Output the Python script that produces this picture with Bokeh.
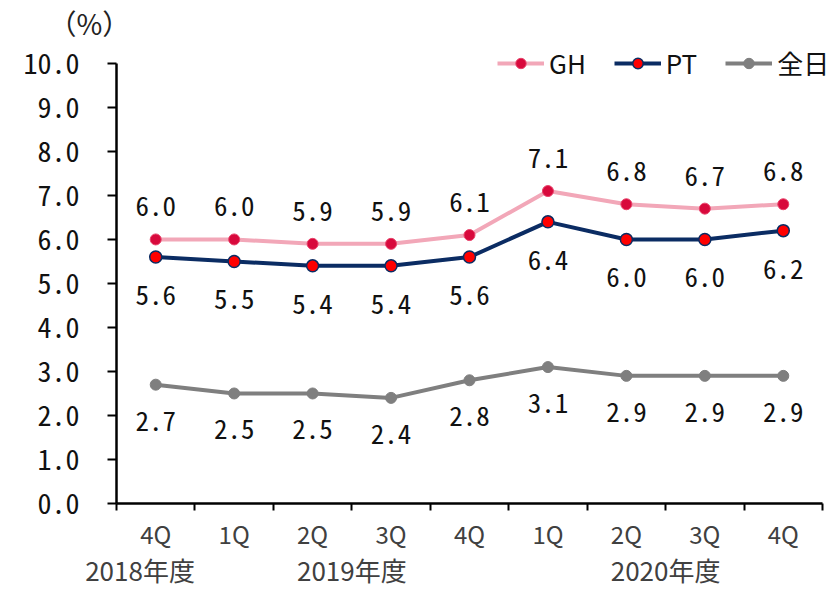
from bokeh.plotting import figure
from bokeh.models import (ColumnDataSource, Range1d, FixedTicker, LinearAxis,
                          Legend, LegendItem, Title, CustomJSTickFormatter)
from bokeh.core.properties import value
from bokeh.embed import file_html
from bokeh.resources import INLINE

quarters = ["4Q", "1Q", "2Q", "3Q", "4Q", "1Q", "2Q", "3Q", "4Q"]
years = ["2018年度", "2019年度", "2020年度"]
year_pos = [0.3, 3.0, 7.0]
gh = [6.0, 6.0, 5.9, 5.9, 6.1, 7.1, 6.8, 6.7, 6.8]
pt = [5.6, 5.5, 5.4, 5.4, 5.6, 6.4, 6.0, 6.0, 6.2]
zen = [2.7, 2.5, 2.5, 2.4, 2.8, 3.1, 2.9, 2.9, 2.9]
y_ticks = [0, 1, 2, 3, 4, 5, 6, 7, 8, 9, 10]

n = len(quarters)
xs = [i + 0.5 for i in range(n)]
src = ColumnDataSource(dict(
    x=xs, gh=gh, pt=pt, zen=zen,
    gh_t=[f"{v:.1f}" for v in gh],
    pt_t=[f"{v:.1f}" for v in pt],
    zen_t=[f"{v:.1f}" for v in zen],
))

NUMFONT = "Noto Sans Mono CJK JP"
JPFONT = "Noto Sans CJK JP"

W = 832
H = 590
LEFT = 116
RIGHT = 2
TOP = 40
BOTTOM_PANEL = 87
frame_h = H - TOP - BOTTOM_PANEL
frame_w = W - LEFT - RIGHT
ymax = 10 * frame_h / (frame_h - (61 - TOP))
xmax = n * frame_w / (822 - LEFT)

p = figure(width=W, height=H, output_backend="svg", toolbar_location=None,
           x_range=Range1d(0, xmax), y_range=Range1d(0, ymax),
           min_border_left=LEFT, min_border_right=RIGHT, min_border_top=TOP,
           min_border_bottom=BOTTOM_PANEL, x_axis_type=None)
p.outline_line_color = None
p.grid.visible = False
p.background_fill_color = "white"
p.border_fill_color = "white"

# y axis
p.yaxis.bounds = (0, 10)
p.yaxis.ticker = FixedTicker(ticks=y_ticks)
p.yaxis.formatter = CustomJSTickFormatter(code="return tick.toFixed(1);")
p.yaxis.axis_line_width = 2.5
p.yaxis.axis_line_color = "black"
p.yaxis.major_tick_line_width = 2
p.yaxis.major_tick_in = 0
p.yaxis.major_tick_out = 9
p.yaxis.minor_tick_line_color = None
p.yaxis.major_label_standoff = 28
p.yaxis.major_label_text_font = NUMFONT
p.yaxis.major_label_text_font_size = "28px"
p.yaxis.major_label_text_color = "#111111"

# x axis (quarters)
xa = LinearAxis(ticker=FixedTicker(ticks=xs, minor_ticks=list(range(n + 1))),
                major_label_overrides={x: q for x, q in zip(xs, quarters)},
                bounds=(0, n))
xa.axis_line_width = 2.5
xa.axis_line_color = "black"
xa.major_tick_line_color = None
xa.minor_tick_line_width = 2
xa.minor_tick_in = 0
xa.minor_tick_out = 7
xa.major_label_standoff = 5
xa.major_label_text_font = JPFONT
xa.major_label_text_font_size = "24px"
xa.major_label_text_color = "#404040"
p.add_layout(xa, "below")

ya = LinearAxis(ticker=FixedTicker(ticks=year_pos),
                major_label_overrides={x: y for x, y in zip(year_pos, years)})
ya.axis_line_color = None
ya.major_tick_line_color = None
ya.minor_tick_line_color = None
ya.major_tick_in = 0
ya.major_tick_out = 0
ya.major_label_standoff = -3
ya.major_label_text_font = JPFONT
ya.major_label_text_font_size = "26px"
ya.major_label_text_color = "#404040"
p.add_layout(ya, "below")

# series
gh_l = p.line("x", "gh", source=src, line_color="#F2A7B8", line_width=4)
gh_m = p.scatter("x", "gh", source=src, size=11, fill_color="#D8093C",
                 line_color="#E8426A", line_width=1)
pt_l = p.line("x", "pt", source=src, line_color="#0B2C63", line_width=4)
pt_m = p.scatter("x", "pt", source=src, size=12, fill_color="#FF0000",
                 line_color="#0B2C63", line_width=1.5)
zen_l = p.line("x", "zen", source=src, line_color="#7F7F7F", line_width=4)
zen_m = p.scatter("x", "zen", source=src, size=11, fill_color="#7F7F7F",
                  line_color="#7F7F7F")

lab = dict(text_align="center", text_baseline="middle",
           text_font=value(NUMFONT), text_font_size="27px", text_color="#111111")
p.text("x", "gh", text="gh_t", source=src, y_offset=-33, **lab)
p.text("x", "pt", text="pt_t", source=src, y_offset=38, **lab)
p.text("x", "zen", text="zen_t", source=src, y_offset=36, **lab)

legend = Legend(items=[
    LegendItem(label="GH", renderers=[gh_l, gh_m]),
    LegendItem(label="PT", renderers=[pt_l, pt_m]),
    LegendItem(label="全日", renderers=[zen_l, zen_m]),
], orientation="horizontal", location=(381, frame_h - (64 - TOP) - 17))
legend.border_line_color = None
legend.background_fill_alpha = 0
legend.padding = 0
legend.margin = 0
legend.spacing = 28
legend.glyph_width = 47
legend.glyph_height = 26
legend.label_height = 26
legend.label_standoff = 5
legend.label_text_font = JPFONT
legend.label_text_font_size = "26px"
legend.label_text_color = "#111111"
legend.label_text_baseline = "middle"
p.add_layout(legend, "center")

title = Title(text="（%）", align="left", offset=-68)
title.text_font = JPFONT
title.text_font_size = "28px"
title.text_font_style = "normal"
title.text_color = "#222222"
title.standoff = 0
p.add_layout(title, "above")

open("out.html", "w").write(file_html(p, INLINE))
